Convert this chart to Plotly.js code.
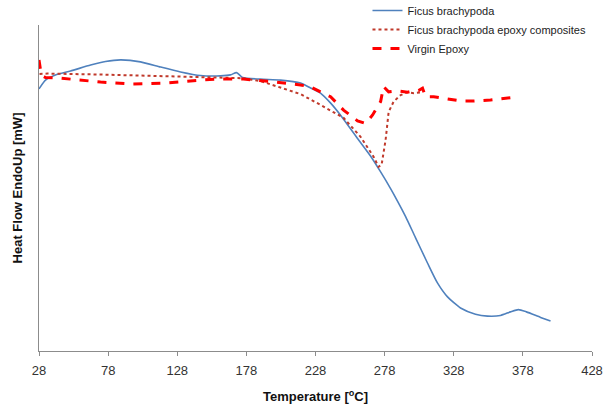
<!DOCTYPE html>
<html>
<head>
<meta charset="utf-8">
<script src="https://cdn.plot.ly/plotly-3.0.1.min.js"></script>
<style>html,body{margin:0;padding:0;background:#fff;}#chart{width:605px;height:404px;}</style>
</head>
<body>
<div id="chart"></div>
<script>
// Ficus brachypoda
var ficusT = [28, 32.7, 39.9, 50.8, 65.3, 76.1, 87, 101.4, 115.9, 130.4, 144.8, 159.3, 166.5, 170.9, 175.2, 188.2, 202.7, 217.2, 224.4, 231.6, 238.8, 246, 258.4, 267.8, 275, 282.2, 287.3, 293.1, 300.3, 309, 316.2, 323.5, 332.9, 343.7, 352.4, 361.8, 369, 374.8, 380.6, 390.8, 398];
var ficusH = [80.4, 83.1, 84.7, 85.9, 87.7, 88.8, 89.3, 88.7, 87.1, 85.6, 84.5, 84.4, 84.7, 85.4, 83.9, 83.4, 83.1, 82.2, 80.7, 79.1, 76.1, 72.4, 65.2, 59.8, 55.0, 49.9, 46.0, 41.3, 34.8, 27.0, 20.9, 16.6, 13.2, 11.3, 10.7, 10.9, 12.0, 12.7, 12.0, 10.3, 9.2];

// Ficus brachypoda epoxy composites
var compT = [28.4, 34.1, 72.5, 108.7, 144.8, 173.8, 188.2, 202.7, 212.1, 217.2, 231.6, 248.3, 260.6, 270.0, 273.6, 275.8, 278.7, 280.9, 284.5, 289.6, 294.6, 299.0, 304.0];
var compH = [85.0, 85.1, 84.8, 84.4, 83.9, 83.7, 82.8, 80.7, 79.5, 78.8, 75.5, 71.5, 65.7, 59.6, 56.5, 57.1, 64.7, 73.3, 76.5, 78.5, 79.4, 79.1, 79.3];

// Virgin Epoxy
var virginT = [28, 29.1, 30.5, 32.7, 43.6, 58.0, 72.5, 94.2, 115.9, 144.8, 157.1, 175.9, 195.4, 217.2, 224.4, 238.9, 248.3, 258.4, 264.2, 269.3, 273.6, 275.1, 277.2, 280.9, 287.3, 294.6, 299.0, 302.5, 305.4, 307.7, 313.5, 323.5, 332.9, 342.3, 354.6, 369.1];
var virginH = [89.3, 86.2, 84.4, 83.9, 83.7, 83.1, 82.5, 81.9, 82.1, 83.1, 83.4, 83.4, 82.7, 81.6, 81.0, 78.0, 73.9, 70.6, 69.8, 72.4, 75.5, 76.5, 81.1, 79.5, 79.8, 79.4, 79.8, 79.9, 80.6, 78.0, 78.0, 77.3, 76.7, 76.7, 77.0, 77.7];

var tickVals = [28, 78, 128, 178, 228, 278, 328, 378, 428];
var tickText = ['28', '78', '128', '178', '228', '278', '328', '378', '428'];

var traces = [
  {x: ficusT, y: ficusH, type: 'scatter', mode: 'lines', name: 'Ficus brachypoda',
   line: {color: '#4F81BD', width: 1.6, shape: 'spline', smoothing: 0.6}},
  {x: compT, y: compH, type: 'scatter', mode: 'lines', name: 'Ficus brachypoda epoxy composites',
   line: {color: '#C0392B', width: 2, dash: 'dot'}},
  {x: virginT, y: virginH, type: 'scatter', mode: 'lines', name: 'Virgin Epoxy',
   line: {color: '#FF0000', width: 3, dash: 'dash'}}
];

var layout = {
  width: 605, height: 404,
  margin: {l: 38.5, r: 13.3, t: 25, b: 53, pad: 0, autoexpand: false},
  paper_bgcolor: '#fff', plot_bgcolor: '#fff',
  font: {family: 'Liberation Sans, Arial, sans-serif', color: '#222'},
  showlegend: true,
  legend: {x: 0.594, y: 1.089, xanchor: 'left', yanchor: 'top', bgcolor: 'rgba(0,0,0,0)',
           font: {size: 11, color: '#222'}, tracegroupgap: 0},
  xaxis: {range: [28, 428], tickmode: 'array', tickvals: tickVals, ticktext: tickText,
          showgrid: false, zeroline: false, showline: true, linecolor: '#8c8c8c', linewidth: 1,
          ticks: 'outside', ticklen: 4, tickcolor: '#8c8c8c', ticklabelstandoff: 3,
          tickfont: {size: 13, color: '#333'},
          title: {text: '<b>Temperature [<sup>o</sup>C]</b>', font: {size: 13, color: '#111'}, standoff: 16}},
  yaxis: {range: [0, 100], showgrid: false, zeroline: false, showline: true, linecolor: '#8c8c8c', linewidth: 1,
          showticklabels: false, ticks: '',
          title: {text: '<b>Heat Flow EndoUp [mW]</b>', font: {size: 13, color: '#111'}, standoff: 12}}
};

Plotly.newPlot('chart', traces, layout, {displayModeBar: false, staticPlot: true});
</script>
</body>
</html>
